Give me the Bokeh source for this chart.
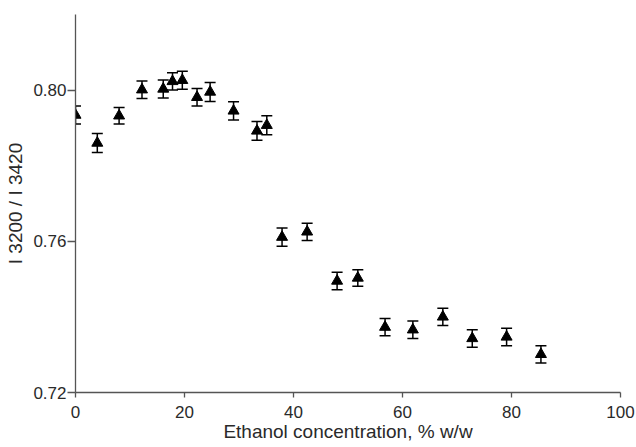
from bokeh.plotting import figure
from bokeh.models import ColumnDataSource, Whisker, TeeHead, Range1d, FixedTicker, NumeralTickFormatter
from bokeh.embed import file_html
from bokeh.resources import INLINE

# Data
ethanol = [0, 4, 8, 12.2, 16.1, 17.8, 19.6, 22.3, 24.7, 29.0, 33.3, 35.1,
           37.9, 42.5, 48.0, 51.8, 56.8, 61.9, 67.4, 72.8, 79.1, 85.4]
ratio = [0.7934, 0.7860, 0.7932, 0.8001, 0.8003, 0.8023, 0.8026, 0.7981, 0.7995, 0.7945, 0.7892, 0.7907,
         0.7611, 0.7625, 0.7495, 0.7503, 0.7373, 0.7366, 0.7400, 0.7343, 0.7347, 0.7301]
err = [0.0024, 0.0025, 0.0022, 0.0023, 0.0024, 0.0023, 0.0024, 0.0023, 0.0025, 0.0024, 0.0025, 0.0025,
       0.0024, 0.0023, 0.0023, 0.0022, 0.0023, 0.0023, 0.0023, 0.0023, 0.0023, 0.0023]
x_ticks = [0, 20, 40, 60, 80, 100]
y_ticks = [0.72, 0.76, 0.80]
x_title = "Ethanol concentration, % w/w"
y_title = "I 3200 / I 3420"

source = ColumnDataSource(dict(
    x=ethanol, y=ratio,
    upper=[v + e for v, e in zip(ratio, err)],
    lower=[v - e for v, e in zip(ratio, err)],
))

p = figure(width=636, height=447, output_backend="svg", toolbar_location=None,
           x_range=Range1d(0, 100), y_range=Range1d(0.72, 0.82),
           min_border_left=75, min_border_right=16, min_border_top=14, min_border_bottom=55)
p.outline_line_color = None
p.grid.visible = False
p.background_fill_color = "white"
p.border_fill_color = "white"

TXT = "#2a2a2a"
AX = "#555555"
FONT = "Liberation Sans"

for ax in (p.xaxis[0], p.yaxis[0]):
    ax.axis_line_color = AX
    ax.axis_line_width = 1.3
    ax.major_tick_line_color = AX
    ax.major_tick_line_width = 1.3
    ax.minor_tick_line_color = None
    ax.major_tick_in = 0
    ax.major_label_text_font = FONT
    ax.major_label_text_color = TXT
    ax.major_label_text_font_size = "17px"
    ax.axis_label_text_font = FONT
    ax.axis_label_text_color = TXT
    ax.axis_label_text_font_size = "19px"
    ax.axis_label_text_font_style = "normal"

p.xaxis.ticker = FixedTicker(ticks=x_ticks)
p.yaxis.ticker = FixedTicker(ticks=y_ticks)
p.yaxis.formatter = NumeralTickFormatter(format="0.00")
p.xaxis.major_tick_out = 5
p.yaxis.major_tick_out = 8
p.xaxis.major_label_standoff = 8
p.yaxis.major_label_standoff = 1
p.xaxis.axis_label = x_title
p.yaxis.axis_label = y_title
p.xaxis.axis_label_standoff = 0
p.yaxis.axis_label_standoff = 4

w = Whisker(source=source, base="x", upper="upper", lower="lower", dimension="height",
            line_color="black", line_width=1.5,
            upper_head=TeeHead(size=11, line_color="black", line_width=1.5),
            lower_head=TeeHead(size=11, line_color="black", line_width=1.5))
p.add_layout(w)
p.scatter("x", "y", source=source, marker="triangle", size=11,
          fill_color="black", line_color="black")

open("out.html", "w").write(file_html(p, INLINE))
